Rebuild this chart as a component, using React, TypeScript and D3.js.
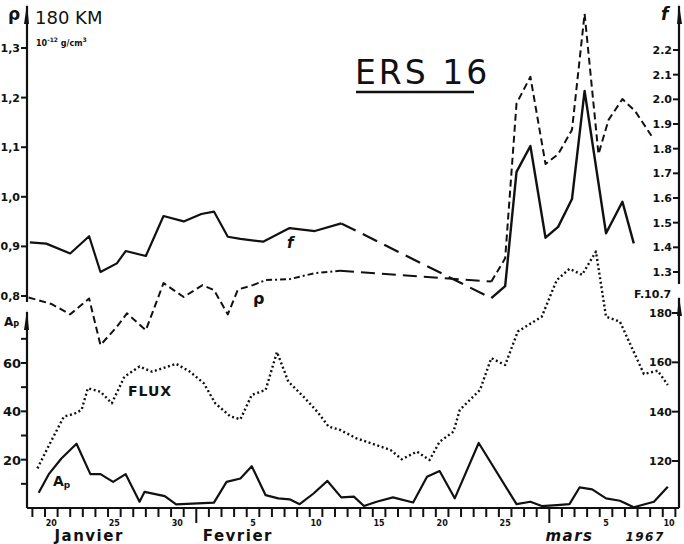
import React from 'react';
import * as d3 from 'd3';

// day of year 1967 (Jan 1 00:00 = 0)
const fDays = [17.8, 19.1, 21.0, 22.5, 23.4, 24.7, 25.4, 27.0, 28.4, 30.0, 31.4, 32.4, 33.5, 34.5, 36.3, 38.4, 40.4, 42.5,
  54.4, 55.5, 56.4, 57.5, 58.7, 59.7, 60.8, 61.8, 63.5, 64.8, 65.7];
const fValues = [1.42, 1.415, 1.375, 1.445, 1.3, 1.335, 1.385, 1.365, 1.527, 1.505, 1.535, 1.545, 1.443, 1.434, 1.423, 1.478, 1.466, 1.497,
  1.194, 1.243, 1.706, 1.811, 1.439, 1.483, 1.596, 2.034, 1.457, 1.585, 1.416];
const fGapAfter = 17;

const rhoDays = [17.7, 19.5, 21.0, 22.5, 23.4, 24.7, 25.5, 27.0, 28.4, 30.0, 31.5, 32.4, 33.5, 34.3, 35.5, 36.5, 38.4, 40.4, 42.4,
  54.4, 55.5, 56.4, 57.5, 58.7, 59.7, 60.8, 61.8, 62.9, 63.7, 64.8, 65.8, 67.1];
const rhoValues = [0.797, 0.784, 0.763, 0.795, 0.701, 0.738, 0.765, 0.731, 0.826, 0.798, 0.822, 0.812, 0.763, 0.813, 0.822, 0.832, 0.834, 0.846, 0.851,
  0.829, 0.876, 1.188, 1.242, 1.066, 1.086, 1.135, 1.369, 1.086, 1.155, 1.197, 1.173, 1.123];
const rhoDotDashFrom = 14;
const rhoGapAfter = 18;

const apDays = [18.5, 19.3, 20.3, 21.5, 22.6, 23.4, 24.4, 25.4, 26.5, 26.9, 28.5, 29.4, 32.4, 33.4, 34.5, 35.4, 36.5, 37.5, 38.4, 39.2,
  40.3, 41.4, 42.5, 43.5, 44.3, 45.3, 46.6, 48.2, 49.3, 50.3, 51.5, 53.4, 56.4, 57.5, 58.4, 59.6, 60.6, 61.4, 62.4, 63.5,
  64.6, 65.7, 67.3, 68.4];
const apValues = [6.3, 14, 20.5, 26.6, 14, 14, 10.8, 14, 2.6, 6.7, 4.9, 1.5, 2.2, 10.8, 12.2, 17.3, 5.3, 4, 3.6, 1.6,
  6, 11.2, 4.4, 4.7, 0.8, 2.6, 4.4, 2.3, 12.9, 15.3, 4, 26.9, 1.6, 2.6, 0.8, 1.2, 1.6, 8.5, 7.7, 4,
  3, 0.3, 2.6, 8.8];

const fluxDays = [18.4, 19.4, 20.5, 21.3, 21.9, 22.4, 23.4, 24.3, 25.3, 26.5, 27.5, 29.4, 30.5, 31.6, 32.5, 33.7, 34.5, 35.4, 36.5, 37.4,
  38.3, 39.5, 40.6, 41.5, 42.4, 43.7, 44.5, 46.4, 47.3, 48.5, 49.5, 50.3, 51.4, 51.9, 53.5, 54.4, 55.5, 56.5, 58.4, 59.6,
  60.6, 61.6, 62.7, 63.5, 64.6, 66.5, 67.6, 68.4];
const fluxValues = [117, 127.2, 138, 139.1, 140.7, 149.5, 148.1, 143.4, 154.2, 158.3, 156.2, 159.4, 156.2, 151.5, 143.4, 138.1, 136.9, 146.8, 148.8, 164.2,
  152.2, 146.1, 140, 133.9, 132.6, 129.2, 127.8, 124.5, 120.7, 123.8, 120.4, 127.8, 131.9, 140.7, 148.8, 161.7, 158.9, 172.5, 178.5, 193.4,
  197.9, 195.5, 204.9, 178.5, 176.5, 155.3, 156.6, 150.8];

const rhoTicks = [1.3, 1.2, 1.1, 1.0, 0.9, 0.8];
const rhoTickLabels = ['1,3', '1,2', '1,1', '1,0', '0,9', '0,8'];
const fTicks = [2.2, 2.1, 2.0, 1.9, 1.8, 1.7, 1.6, 1.5, 1.4, 1.3];
const fTickLabels = ['2.2', '2.1', '2.0', '1.9', '1.8', '1.7', '1.6', '1.5', '1.4', '1.3'];
const apTicks = [20, 40, 60];
const apMinor = [10, 30, 50, 70];
const fluxTicks = [180, 160, 140, 120];
const dayLabelPos = [19.5, 24.5, 29.5, 35.5, 40.5, 45.5, 50.5, 55.5, 63.5, 68.5];
const dayLabels = ['20', '25', '30', '5', '10', '15', '20', '25', '5', '10'];
const monthPos = [22.5, 34.3, 60.6, 66.6];
const monthLabels = ['Janvier', 'Fevrier', 'mars', '1967'];

const W = 684;
const H = 544;
const FONT = 'DejaVu Sans, sans-serif';

type Pt = [number, number];
const zip = (a: number[], b: number[]): Pt[] => a.map((d, i) => [d, b[i]]);

export default function App() {
  const x = d3.scaleLinear().domain([19, 59]).range([45, 549.3]);
  const rhoY = d3.scaleLinear().domain([0.8, 1.3]).range([296, 48]);
  const fY = d3.scaleLinear().domain([1.3, 2.2]).range([272, 50]);
  const apY = d3.scaleLinear().domain([0, 60]).range([508, 363]);
  const fluxY = d3.scaleLinear().domain([120, 180]).range([461, 313]);

  const leftX = 27;
  const rightX = 679;
  const baseY = 508;

  const mk = (y: d3.ScaleLinear<number, number>) =>
    d3.line<Pt>().x(d => x(d[0])).y(d => y(d[1]));

  const fPts = zip(fDays, fValues);
  const rhoPts = zip(rhoDays, rhoValues);
  const fLine = mk(fY);
  const rhoLine = mk(rhoY);
  const apLine = mk(apY);
  const fluxLine = mk(fluxY);

  const dayTicks = d3.range(18, 70);

  const ink = '#111';

  return (
    <svg width={W} height={H} style={{ position: 'absolute', left: 0, top: 0, background: '#fff' }}
      fontFamily={FONT}>
      <rect width={W} height={H} fill="#fff" />

      {/* axes */}
      <g stroke={ink} strokeWidth={2.2} fill="none">
        <line x1={leftX} y1={6} x2={leftX} y2={302} />
        <line x1={leftX} y1={312} x2={leftX} y2={baseY} />
        <line x1={rightX} y1={6} x2={rightX} y2={284} />
        <line x1={rightX} y1={298} x2={rightX} y2={baseY} />
        <line x1={leftX} y1={baseY} x2={rightX} y2={baseY} />
      </g>
      <g fill={ink}>
        <path d={`M${leftX - 3},24 L${leftX},4 L${leftX + 2},24 Z`} />
        <path d={`M${leftX - 3},330 L${leftX},310 L${leftX + 2},330 Z`} />
        <path d={`M${rightX - 2},24 L${rightX},4 L${rightX + 3},24 Z`} />
        <path d={`M${rightX - 2},316 L${rightX},296 L${rightX + 3},316 Z`} />
      </g>

      {/* left top ticks */}
      {rhoTicks.map((v, i) => (
        <g key={'r' + i}>
          <line x1={leftX - 6} x2={leftX} y1={rhoY(v)} y2={rhoY(v)} stroke={ink} strokeWidth={2} />
          <text x={leftX - 7} y={rhoY(v) + 4} fontSize={11} fontWeight="bold" textAnchor="end" fill={ink}>
            {rhoTickLabels[i]}
          </text>
        </g>
      ))}
      {/* right top ticks */}
      {fTicks.map((v, i) => (
        <g key={'f' + i}>
          <line x1={rightX - 6} x2={rightX} y1={fY(v)} y2={fY(v)} stroke={ink} strokeWidth={2} />
          <text x={rightX - 7} y={fY(v) + 4} fontSize={11} fontWeight="bold" textAnchor="end" fill={ink}>
            {fTickLabels[i]}
          </text>
        </g>
      ))}
      {/* left bottom ticks */}
      {apTicks.map(v => (
        <g key={'a' + v}>
          <line x1={leftX - 6} x2={leftX} y1={apY(v)} y2={apY(v)} stroke={ink} strokeWidth={2} />
          <text x={leftX - 6} y={apY(v) + 5} fontSize={13} fontWeight="bold" textAnchor="end" fill={ink}>
            {v}
          </text>
        </g>
      ))}
      {apMinor.map(v => (
        <line key={'am' + v} x1={leftX - 6} x2={leftX} y1={apY(v)} y2={apY(v)} stroke={ink} strokeWidth={2} />
      ))}
      {/* right bottom ticks */}
      {fluxTicks.map(v => (
        <g key={'fl' + v}>
          <line x1={rightX - 7} x2={rightX} y1={fluxY(v)} y2={fluxY(v)} stroke={ink} strokeWidth={2} />
          <text x={rightX - 7} y={fluxY(v) + 4} fontSize={11} fontWeight="bold" textAnchor="end" fill={ink}>
            {v}
          </text>
        </g>
      ))}

      {/* bottom day ticks */}
      {dayTicks.map(t => (
        <line key={'d' + t} x1={x(t)} x2={x(t)} y1={baseY}
          y2={t === 31 || t === 59 ? baseY + 15 : baseY + 9} stroke={ink} strokeWidth={2} />
      ))}
      {dayLabels.map((s, i) => (
        <text key={'dl' + i} x={x(dayLabelPos[i])} y={baseY + 18} fontSize={8} fontWeight="bold"
          textAnchor="middle" fill={ink}>{s}</text>
      ))}
      {monthLabels.map((s, i) => (
        <text key={'m' + i} x={x(monthPos[i])} y={baseY + 33} fontSize={i === 3 ? 12 : 15} fontWeight="bold"
          fontStyle={i >= 2 ? 'italic' : 'normal'} letterSpacing={1.5} textAnchor="middle" fill={ink}>{s}</text>
      ))}

      {/* series */}
      <g fill="none" stroke={ink} strokeLinejoin="round">
        <path d={fLine(fPts.slice(0, fGapAfter + 1)) || ''} strokeWidth={2.2} />
        <path d={fLine(fPts.slice(fGapAfter, fGapAfter + 2)) || ''} strokeWidth={2.2} strokeDasharray="16 8" />
        <path d={fLine(fPts.slice(fGapAfter + 1)) || ''} strokeWidth={2.4} />

        <path d={rhoLine(rhoPts.slice(0, rhoDotDashFrom + 1)) || ''} strokeWidth={2} strokeDasharray="7 4" />
        <path d={rhoLine(rhoPts.slice(rhoDotDashFrom, rhoGapAfter + 1)) || ''} strokeWidth={2}
          strokeDasharray="6 3 2 3" />
        <path d={rhoLine(rhoPts.slice(rhoGapAfter, rhoGapAfter + 2)) || ''} strokeWidth={2} strokeDasharray="14 7" />
        <path d={rhoLine(rhoPts.slice(rhoGapAfter + 1)) || ''} strokeWidth={2} strokeDasharray="7 4" />

        <path d={apLine(zip(apDays, apValues)) || ''} strokeWidth={2.2} />
        <path d={fluxLine(zip(fluxDays, fluxValues)) || ''} strokeWidth={2.4} strokeDasharray="2 2.6" />
      </g>

      {/* labels */}
      <g fill={ink}>
        <text x={8} y={20} fontSize={17} fontWeight="bold">ρ</text>
        <text x={35} y={24} fontSize={18}>180 KM</text>
        <text x={36} y={46} fontSize={8} fontWeight="bold">
          10<tspan dy={-4} fontSize={6}>-12</tspan><tspan dy={4}> g/cm</tspan><tspan dy={-4} fontSize={6}>3</tspan>
        </text>
        <text x={661} y={20} fontSize={17} fontWeight="bold" fontStyle="italic">f</text>
        <text x={4} y={326} fontSize={12} fontWeight="bold">A<tspan fontSize={8} dy={2}>P</tspan></text>
        <text x={634} y={298} fontSize={11} fontWeight="bold">F.10.7</text>
        <text x={355} y={84} fontSize={33} letterSpacing={3}>ERS 16</text>
        <text x={287} y={248} fontSize={15} fontWeight="bold" fontStyle="italic">f</text>
        <text x={253} y={304} fontSize={16} fontWeight="bold">ρ</text>
        <text x={128} y={396} fontSize={14} fontWeight="bold" letterSpacing={1}>FLUX</text>
        <text x={53} y={486} fontSize={14} fontWeight="bold">A<tspan fontSize={9} dy={2}>p</tspan></text>
      </g>
      <line x1={356} x2={474} y1={92} y2={92} stroke={ink} strokeWidth={2.6} />
    </svg>
  );
}
